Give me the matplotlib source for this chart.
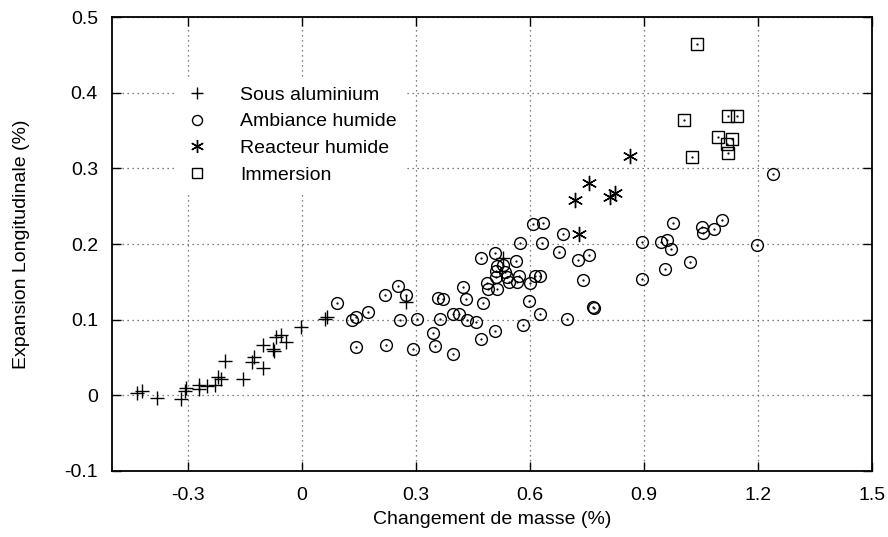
import matplotlib.pyplot as plt

plt.rcParams['font.family'] = ['Liberation Sans', 'DejaVu Sans']

# --- data: mass change (%) vs longitudinal expansion (%) ---
alu_x = [-0.435, -0.422, -0.380, -0.317, -0.308, -0.305, -0.270, -0.270, -0.251,
         -0.229, -0.220, -0.212, -0.203, -0.154, -0.132, -0.126, -0.103, -0.102,
         -0.076, -0.073, -0.069, -0.056, -0.042, -0.003, 0.061, 0.066, 0.274, 0.528]
alu_y = [0.003, 0.006, -0.004, -0.005, 0.006, 0.010, 0.014, 0.009, 0.012,
         0.014, 0.024, 0.021, 0.045, 0.022, 0.044, 0.051, 0.067, 0.036,
         0.061, 0.058, 0.077, 0.080, 0.071, 0.091, 0.101, 0.103, 0.124, 0.181]

amb_x = [0.091, 0.133, 0.142, 0.142, 0.175, 0.218, 0.221, 0.254, 0.274, 0.258,
         0.293, 0.304, 0.346, 0.350, 0.359, 0.370, 0.363, 0.397, 0.398, 0.414,
         0.425, 0.432, 0.435, 0.458, 0.471, 0.477, 0.471, 0.508, 0.486, 0.489,
         0.512, 0.508, 0.512, 0.530, 0.510, 0.534, 0.510, 0.539, 0.546, 0.570,
         0.567, 0.563, 0.600, 0.613, 0.626, 0.598, 0.575, 0.607, 0.635, 0.631,
         0.686, 0.676, 0.581, 0.626, 0.697, 0.727, 0.755, 0.740, 0.767, 0.769,
         0.896, 0.896, 0.946, 0.960, 0.970, 0.976, 0.955, 1.240, 1.052, 1.104,
         1.084, 1.054, 1.198, 1.021]
amb_y = [0.122, 0.099, 0.103, 0.064, 0.110, 0.133, 0.066, 0.144, 0.133, 0.099,
         0.061, 0.101, 0.082, 0.065, 0.129, 0.128, 0.101, 0.055, 0.107, 0.108,
         0.143, 0.127, 0.099, 0.097, 0.075, 0.122, 0.181, 0.188, 0.148, 0.140,
         0.140, 0.085, 0.171, 0.172, 0.165, 0.163, 0.156, 0.156, 0.150, 0.158,
         0.150, 0.178, 0.148, 0.158, 0.158, 0.125, 0.201, 0.226, 0.228, 0.202,
         0.213, 0.190, 0.093, 0.108, 0.101, 0.179, 0.185, 0.153, 0.117, 0.116,
         0.203, 0.154, 0.203, 0.206, 0.194, 0.228, 0.167, 0.293, 0.223, 0.232,
         0.220, 0.214, 0.199, 0.176]

rea_x = [0.862, 0.756, 0.718, 0.811, 0.825, 0.728]
rea_y = [0.317, 0.281, 0.258, 0.262, 0.268, 0.213]

imm_x = [1.040, 1.004, 1.120, 1.146, 1.096, 1.131, 1.119, 1.122, 1.026]
imm_y = [0.464, 0.364, 0.369, 0.369, 0.341, 0.339, 0.332, 0.321, 0.315]

fig = plt.figure(figsize=(8.88, 5.37), dpi=100)
ax = fig.add_axes([0.126, 0.123, 0.856, 0.845])

ax.plot(alu_x, alu_y, ls='none', marker='+', ms=10, mew=1.0, color='black',
        label='Sous aluminium')
ax.plot(amb_x, amb_y, ls='none', marker='o', ms=8.5, mew=1.0, mfc='none',
        color='black', label='Ambiance humide')
ax.plot(rea_x, rea_y, ls='none', marker=(6, 2, 0), ms=11, mew=1.0,
        color='black', label='Reacteur humide')
ax.plot(imm_x, imm_y, ls='none', marker='s', ms=8, mew=1.0, mfc='none',
        color='black', label='Immersion')
# centre dots of the open markers
ax.plot(amb_x + imm_x, amb_y + imm_y, ls='none', marker='.', ms=1.2,
        color='black')

ax.set_xlim(-0.5, 1.5)
ax.set_ylim(-0.1, 0.5)
ax.set_xticks([-0.3, 0, 0.3, 0.6, 0.9, 1.2, 1.5])
ax.set_xticklabels(['-0.3', '0', '0.3', '0.6', '0.9', '1.2', '1.5'])
ax.set_yticks([-0.1, 0, 0.1, 0.2, 0.3, 0.4, 0.5])
ax.set_yticklabels(['-0.1', '0', '0.1', '0.2', '0.3', '0.4', '0.5'])
ax.tick_params(direction='in', length=6.5, width=1.0, top=True, right=True,
               labelsize=14)
ax.tick_params(axis='x', pad=11.5)
ax.tick_params(axis='y', pad=10)
for s in ax.spines.values():
    s.set_linewidth(1.3)

ax.grid(True, linestyle=(0, (1, 3)), color='#555555', linewidth=0.9)
ax.set_axisbelow(True)

ax.set_xlabel('Changement de masse (%)', fontsize=14, labelpad=5)
ax.set_ylabel('Expansion Longitudinale (%)', fontsize=14, labelpad=25)

leg = ax.legend(loc='upper left', bbox_to_anchor=(0.071, 0.8905), fontsize=14,
                frameon=True, fancybox=False, framealpha=1, edgecolor='none',
                facecolor='white', handlelength=1.2, handletextpad=1.62,
                labelspacing=0.46, borderpad=0.5, markerscale=0.85)
leg.set_zorder(5)

fig.savefig('out.png', dpi=100)
